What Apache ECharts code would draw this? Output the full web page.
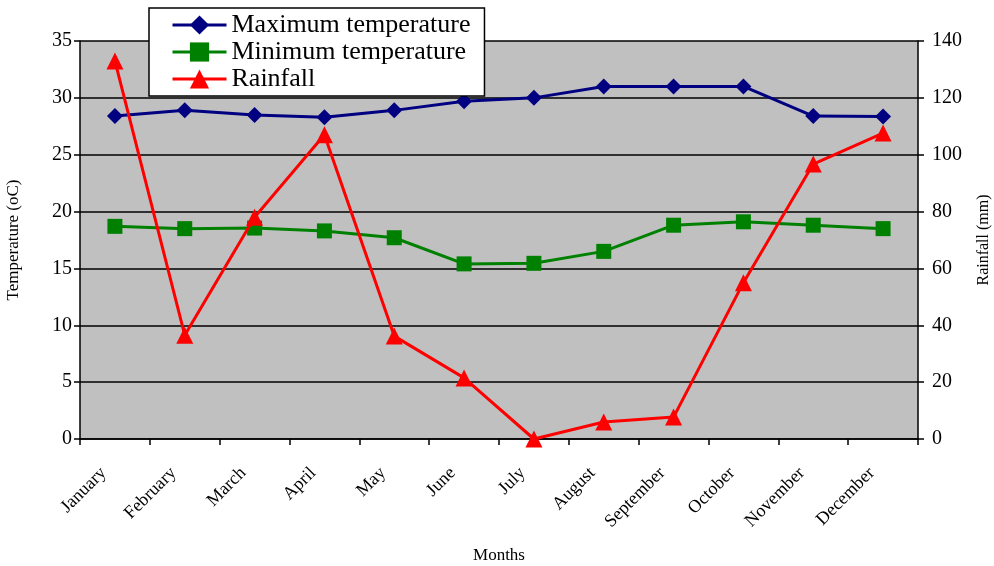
<!DOCTYPE html>
<html>
<head>
<meta charset="utf-8">
<script src="https://cdn.jsdelivr.net/npm/echarts@6/dist/echarts.min.js"></script>
<style>
	html, body {margin: 0; padding: 0; background: #fff;}
	#chart {width: 994px; height: 566px;}
</style>
</head>
<body>
<div id="chart"></div>
<script>
const months = ["January", "February", "March", "April", "May", "June", "July", "August", "September", "October", "November", "December"];
const maxTemp = [28.4, 28.9, 28.5, 28.3, 28.9, 29.7, 30.0, 31.0, 31.0, 31.0, 28.4, 28.35];
const minTemp = [18.7, 18.5, 18.55, 18.3, 17.7, 15.4, 15.45, 16.5, 18.8, 19.1, 18.8, 18.5];
const rainfall = [133, 36.5, 78, 107, 36.2, 21.5, 0, 6, 7.7, 55, 96.7, 107.6];

const serif = "'Liberation Serif', 'DejaVu Serif', serif";

const chart = echarts.init(document.getElementById("chart"));

const option = {
	animation: false,
	textStyle: {fontFamily: serif, color: "#000"},
	grid: {left: 80, right: 76, top: 41, bottom: 127, outerBoundsMode: "none", containLabel: false, show: true, backgroundColor: "#c0c0c0", borderWidth: 0},
	legend: {
		orient: "vertical",
		left: 149,
		top: 8,
		backgroundColor: "#fff",
		borderColor: "#000",
		borderWidth: 1.5,
		borderRadius: 0,
		padding: [4, 14, 4, 22],
		itemGap: 1,
		itemWidth: 54,
		itemHeight: 24,
		lineStyle: {width: 3},
		textStyle: {fontFamily: serif, fontSize: 26, lineHeight: 24, color: "#000"},
		data: ["Maximum temperature", "Minimum temperature", "Rainfall"]
	},
	xAxis: {
		type: "category",
		data: months,
		boundaryGap: true,
		name: "Months",
		nameLocation: "middle",
		nameGap: 108,
		nameTextStyle: {fontFamily: serif, fontSize: 17, color: "#000"},
		axisLine: {lineStyle: {color: "#000", width: 1.5}},
		axisTick: {show: true, length: 6, lineStyle: {color: "#000", width: 1.5}},
		axisLabel: {rotate: 45, fontFamily: serif, fontSize: 18, color: "#000", margin: 20, padding: [0, 16, 0, 0], interval: 0}
	},
	yAxis: [
		{
			type: "value",
			min: 0,
			max: 35,
			interval: 5,
			name: "Temperature (oC)",
			nameLocation: "middle",
			nameGap: 58,
			nameTextStyle: {fontFamily: serif, fontSize: 17, color: "#000"},
			axisLine: {show: true, lineStyle: {color: "#000", width: 1.5}},
			axisTick: {show: true, length: 6, lineStyle: {color: "#000", width: 1.5}},
			axisLabel: {fontFamily: serif, fontSize: 20, color: "#000", margin: 8},
			splitLine: {show: true, lineStyle: {color: "#000", width: 1.5}}
		},
		{
			type: "value",
			min: 0,
			max: 140,
			interval: 20,
			name: "Rainfall (mm)",
			nameLocation: "middle",
			nameGap: 58,
			nameTextStyle: {fontFamily: serif, fontSize: 16, color: "#000"},
			axisLine: {show: true, lineStyle: {color: "#000", width: 1.5}},
			axisTick: {show: true, length: 6, lineStyle: {color: "#000", width: 1.5}},
			axisLabel: {fontFamily: serif, fontSize: 20, color: "#000", margin: 14},
			splitLine: {show: false}
		}
	],
	series: [
		{
			name: "Maximum temperature",
			type: "line",
			data: maxTemp,
			symbol: "diamond",
			symbolSize: 16,
			lineStyle: {color: "#000080", width: 3},
			itemStyle: {color: "#000080"},
			z: 3
		},
		{
			name: "Minimum temperature",
			type: "line",
			data: minTemp,
			symbol: "rect",
			symbolSize: 15,
			lineStyle: {color: "#008000", width: 3},
			itemStyle: {color: "#008000"},
			z: 3
		},
		{
			name: "Rainfall",
			type: "line",
			yAxisIndex: 1,
			data: rainfall,
			symbol: "triangle",
			symbolSize: 17,
			lineStyle: {color: "#ff0000", width: 3},
			itemStyle: {color: "#ff0000"},
			z: 4
		}
	]
};

option && chart.setOption(option);
</script>
</body>
</html>
